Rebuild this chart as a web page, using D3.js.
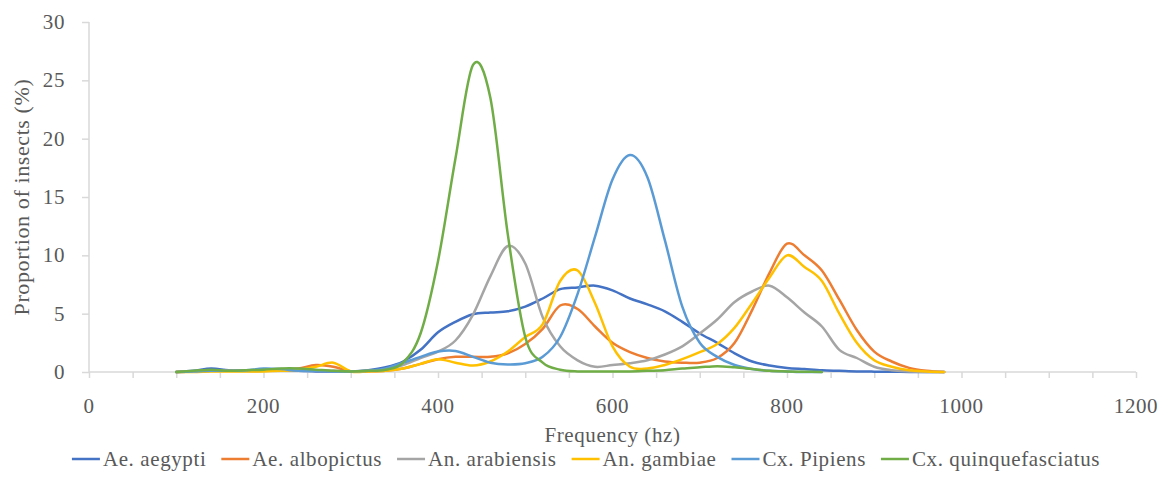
<!DOCTYPE html>
<html lang="en">
<head>
  <meta charset="UTF-8" />
  <title>Wingbeat frequency distribution</title>
  <script src="https://d3js.org/d3.v7.min.js"></script>
  <style>
    body {
      margin: 0;
      background: #fff;
    }
    svg text {
      font-family: "Liberation Serif", "Times New Roman", "DejaVu Serif", "Noto Serif", Times, serif;
      fill: #595959;
      letter-spacing: 0.6px;
    }
  </style>
</head>
<body>
  <svg width="1170" height="496"></svg>
  <script>
    // frequency bins (hz)
    const freq = [100, 120, 140, 160, 180, 200, 220, 240, 260, 280, 300, 320, 340, 360, 380,
      400, 420, 440, 460, 480, 500, 520, 540, 560, 580, 600, 620, 640, 660, 680,
      700, 720, 740, 760, 780, 800, 820, 840, 860, 880, 900, 920, 940, 960, 980];

    const aegypti = [0, 0.1, 0.3, 0.15, 0.1, 0.1, 0.1, 0.1, 0.05, 0.05, 0.05, 0.15, 0.4, 0.9, 1.9,
      3.4, 4.3, 4.95, 5.1, 5.2, 5.6, 6.3, 7.1, 7.25, 7.4, 7.0, 6.3, 5.8, 5.2, 4.3,
      3.3, 2.5, 1.6, 0.9, 0.55, 0.35, 0.25, 0.15, 0.1, 0.05, 0.03, 0.02, 0.01, 0, 0];
    const albopictus = [0, 0.05, 0.1, 0.1, 0.1, 0.1, 0.2, 0.3, 0.6, 0.45, 0.05, 0.05, 0.1, 0.3, 0.7,
      1.1, 1.3, 1.3, 1.3, 1.6, 2.4, 3.7, 5.7, 5.4, 3.9, 2.5, 1.7, 1.2, 0.9, 0.8,
      0.8, 1.2, 2.5, 5.3, 8.5, 11.0, 10.0, 8.7, 6.2, 3.6, 1.75, 0.9, 0.35, 0.1, 0];
    const arabiensis = [0, 0.05, 0.1, 0.1, 0.1, 0.1, 0.1, 0.15, 0.15, 0.1, 0.05, 0.1, 0.2, 0.6, 1.2,
      1.75, 2.7, 4.9, 8.2, 10.8, 9.3, 4.7, 2.2, 1.0, 0.45, 0.6, 0.75, 1.0, 1.5, 2.2,
      3.3, 4.5, 6.0, 6.9, 7.4, 6.4, 5.1, 3.9, 1.9, 1.2, 0.45, 0.15, 0.05, 0, 0];
    const gambiae = [0, 0, 0.05, 0.05, 0.05, 0.05, 0.1, 0.2, 0.45, 0.8, 0.05, 0.05, 0.1, 0.3, 0.7,
      1.1, 0.8, 0.55, 0.9, 1.75, 3.0, 4.1, 7.8, 8.7, 5.9, 2.2, 0.45, 0.3, 0.6, 1.1,
      1.7, 2.4, 3.8, 5.9, 8.1, 10.0, 9.0, 7.8, 5.0, 2.5, 1.0, 0.45, 0.15, 0.05, 0];
    const pipiens = [0, 0.05, 0.1, 0.1, 0.15, 0.3, 0.25, 0.1, 0.1, 0.05, 0.05, 0.1, 0.3, 0.8, 1.3,
      1.75, 1.8, 1.3, 0.8, 0.65, 0.75, 1.3, 3.0, 6.7, 11.6, 16.5, 18.6, 16.7, 11.3, 5.6,
      2.5, 1.3, 0.6, 0.25, 0.1, 0.05, 0, 0];
    const quinquefasciatus = [0, 0.1, 0.2, 0.1, 0.15, 0.2, 0.3, 0.3, 0.2, 0.1, 0.05, 0.1, 0.2, 0.8, 3.3,
      9.5, 18.3, 26.3, 23.5, 11.8, 3.0, 0.8, 0.2, 0.05, 0.05, 0.05, 0.05, 0.1, 0.15, 0.3,
      0.4, 0.5, 0.4, 0.25, 0.1, 0.05, 0.02, 0];

    const seriesNames = ["Ae. aegypti", "Ae. albopictus", "An. arabiensis", "An. gambiae", "Cx. Pipiens", "Cx. quinquefasciatus"];
    const seriesValues = [aegypti, albopictus, arabiensis, gambiae, pipiens, quinquefasciatus];
    const colors = ["#4472C4", "#ED7D31", "#A5A5A5", "#FFC000", "#5B9BD5", "#70AD47"];

    const xTicks = [0, 200, 400, 600, 800, 1000, 1200];
    const yTicks = [0, 5, 10, 15, 20, 25, 30];

    const svg = d3.select("svg");
    const margin = {left: 89, right: 34, top: 22, bottom: 124};
    const width = 1170, height = 496;
    const fontStack = '"Liberation Serif", "Times New Roman", "DejaVu Serif", "Noto Serif", Times, serif';

    const x = d3.scaleLinear().domain([0, 1200]).range([margin.left, width - margin.right]);
    const y = d3.scaleLinear().domain([0, 30]).range([height - margin.bottom, margin.top]);

    const axisColor = "#d9d9d9";

    // x axis: minor ticks every 50, labels every 200
    const xAxis = svg.append("g")
      .attr("transform", `translate(0,${y(0)})`)
      .call(d3.axisBottom(x).tickValues(d3.range(0, 1201, 50)).tickSize(6).tickFormat(""));
    xAxis.select(".domain").attr("stroke", axisColor).attr("stroke-width", 1.5).attr("d", `M${x(0)},0H${x(1200)}`);
    xAxis.selectAll(".tick line").attr("stroke", axisColor).attr("stroke-width", 1.5);

    svg.append("g").selectAll("text")
      .data(xTicks)
      .join("text")
      .attr("x", d => x(d))
      .attr("y", y(0) + 41)
      .attr("text-anchor", "middle")
      .attr("font-family", fontStack)
      .style("font-size", "21px")
      .text(d => d);

    // y axis
    const yAxis = svg.append("g")
      .attr("transform", `translate(${x(0)},0)`)
      .call(d3.axisLeft(y).tickValues(yTicks).tickSize(7).tickFormat(""));
    yAxis.select(".domain").attr("stroke", axisColor).attr("stroke-width", 1.5).attr("d", `M0,${y(0)}V${y(30)}`);
    yAxis.selectAll(".tick line").attr("stroke", axisColor).attr("stroke-width", 1.5);

    svg.append("g").selectAll("text")
      .data(yTicks)
      .join("text")
      .attr("x", x(0) - 24)
      .attr("y", d => y(d) + 7)
      .attr("text-anchor", "end")
      .attr("font-family", fontStack)
      .style("font-size", "21px")
      .text(d => d);

    // axis titles
    svg.append("text")
      .attr("x", (x(0) + x(1200)) / 2)
      .attr("y", 442)
      .attr("text-anchor", "middle")
      .attr("font-family", fontStack)
      .style("font-size", "21px")
      .text("Frequency (hz)");

    svg.append("text")
      .attr("transform", `translate(29,${(y(0) + y(30)) / 2}) rotate(-90)`)
      .attr("text-anchor", "middle")
      .attr("font-family", fontStack)
      .style("font-size", "22px")
      .text("Proportion of insects (%)");

    // lines
    const line = d3.line()
      .x((d, i) => x(freq[i]))
      .y(d => y(d))
      .curve(d3.curveCardinal.tension(0));

    svg.append("g").selectAll("path")
      .data(seriesValues)
      .join("path")
      .attr("fill", "none")
      .attr("stroke", (d, i) => colors[i])
      .attr("stroke-width", 2.5)
      .attr("stroke-linejoin", "round")
      .attr("stroke-linecap", "round")
      .attr("d", line);

    // legend, centred under the plot
    const legend = svg.append("g");
    const items = legend.selectAll("g")
      .data(seriesNames)
      .join("g");
    items.append("line")
      .attr("x1", 0).attr("x2", 28)
      .attr("y1", 0).attr("y2", 0)
      .attr("stroke", (d, i) => colors[i])
      .attr("stroke-width", 2.5);
    items.append("text")
      .attr("x", 31)
      .attr("y", 7)
      .attr("font-family", fontStack)
      .style("font-size", "21px")
      .text(d => d);

    const gap = 15;
    let offset = 0;
    const positions = [];
    items.each(function() {
      const w = 31 + d3.select(this).select("text").node().getComputedTextLength();
      positions.push(offset);
      offset += w + gap;
    });
    const total = offset - gap;
    const start = 586 - total / 2;
    items.attr("transform", (d, i) => `translate(${start + positions[i]},459)`);
  </script>
</body>
</html>
